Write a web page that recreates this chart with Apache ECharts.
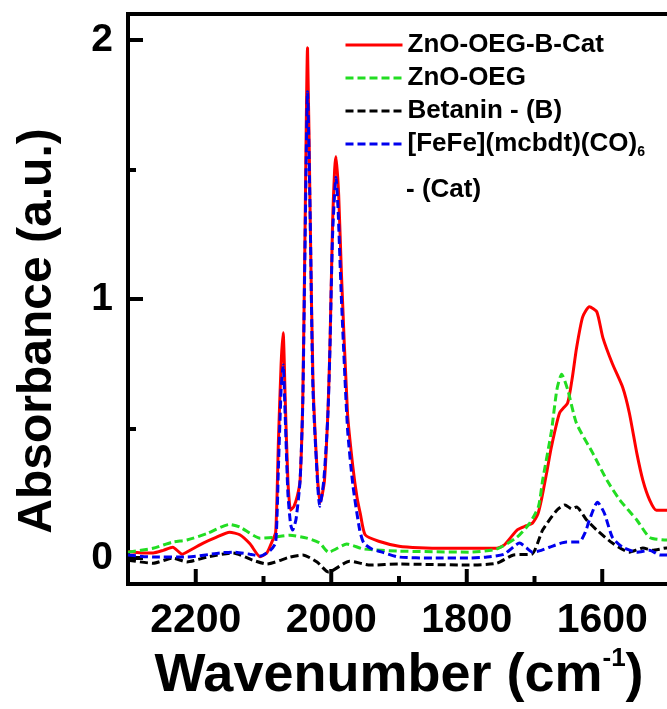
<!DOCTYPE html>
<html>
<head>
<meta charset="utf-8">
<script src="https://cdn.jsdelivr.net/npm/echarts@6.0.0/dist/echarts.min.js"></script>
<style>
  html, body { margin: 0; padding: 0; background: #fff; }
  #chart { width: 667px; height: 709px; }
</style>
</head>
<body>
<div id="chart"></div>
<script>
// ZnO-OEG-B-Cat (red, solid)
const catWn = [2300, 2280, 2263, 2248, 2234, 2220, 2205, 2189, 2170, 2150, 2135, 2120, 2105, 2095, 2088, 2082,
  2078, 2074, 2071, 2068, 2064, 2060, 2055, 2050, 2046, 2042, 2039, 2035, 2031, 2027, 2020, 2016, 2010, 2005,
  2002, 1998, 1995, 1993, 1989, 1985, 1976, 1968, 1962, 1957, 1950, 1930, 1900, 1870, 1830, 1790, 1756, 1745,
  1735, 1725, 1712, 1703, 1695, 1689, 1682, 1675, 1663, 1651, 1644, 1638, 1629, 1619, 1608, 1599, 1585, 1570,
  1560, 1549, 1540, 1530, 1520, 1505, 1500];
const catAbs = [0.025, 0.02, 0.02, 0.03, 0.042, 0.015, 0.035, 0.058, 0.08, 0.10, 0.09, 0.055, 0.005, 0.02, 0.06, 0.10,
  0.45, 0.75, 0.87, 0.62, 0.30, 0.185, 0.20, 0.24, 0.30, 0.62, 1.20, 1.97, 1.30, 0.69, 0.30, 0.216, 0.30, 0.56,
  0.81, 1.30, 1.50, 1.55, 1.40, 1.10, 0.56, 0.35, 0.235, 0.17, 0.09, 0.065, 0.046, 0.04, 0.038, 0.038, 0.038, 0.05,
  0.08, 0.11, 0.125, 0.135, 0.17, 0.235, 0.33, 0.43, 0.56, 0.60, 0.70, 0.81, 0.93, 0.97, 0.95, 0.85, 0.75, 0.66,
  0.56, 0.405, 0.30, 0.224, 0.185, 0.185, 0.185];

// ZnO-OEG (green, dashed)
const oegWn = [2300, 2263, 2234, 2213, 2183, 2150, 2135, 2105, 2086, 2061, 2036, 2017, 2004, 1977, 1952, 1900,
  1797, 1756, 1726, 1707, 1694, 1688, 1675, 1667, 1660, 1651, 1638, 1614, 1593, 1574, 1549, 1530, 1505, 1500];
const oegAbs = [0.023, 0.038, 0.062, 0.07, 0.095, 0.13, 0.12, 0.077, 0.08, 0.088, 0.077, 0.058, 0.023, 0.054, 0.035, 0.027,
  0.023, 0.035, 0.08, 0.135, 0.20, 0.30, 0.49, 0.65, 0.71, 0.65, 0.52, 0.405, 0.30, 0.224, 0.147, 0.08, 0.07, 0.07];

// Betanin - (B) (black, dashed)
const betWn = [2300, 2263, 2234, 2213, 2183, 2145, 2116, 2095, 2061, 2042, 2021, 2004, 1973, 1942, 1900, 1797,
  1756, 1731, 1704, 1688, 1667, 1655, 1645, 1638, 1623, 1608, 1585, 1560, 1540, 1526, 1505, 1500];
const betAbs = [-0.008, -0.02, 0.0, -0.015, 0.004, 0.02, -0.008, -0.023, 0.004, 0.012, -0.015, -0.054, -0.012, -0.027, -0.023, -0.027,
  -0.02, 0.012, 0.015, 0.108, 0.185, 0.205, 0.19, 0.197, 0.147, 0.108, 0.058, 0.023, 0.039, 0.03, 0.039, 0.039];

// [FeFe](mcbdt)(CO)6 - (Cat) (blue, dashed)
const feWn = [2300, 2263, 2213, 2164, 2145, 2120, 2105, 2090, 2082, 2078, 2074, 2071, 2068, 2064, 2060, 2057,
  2052, 2046, 2042, 2039, 2035, 2031, 2027, 2020, 2017, 2011, 2005, 2002, 1998, 1993, 1990, 1985, 1976, 1968,
  1958, 1952, 1940, 1925, 1900, 1850, 1797, 1770, 1745, 1722, 1712, 1703, 1690, 1678, 1653, 1634, 1625, 1619,
  1607, 1597, 1585, 1570, 1549, 1530, 1515, 1500];
const feAbs = [0.012, 0.004, 0.004, 0.02, 0.023, 0.015, 0.008, 0.03, 0.06, 0.35, 0.65, 0.745, 0.55, 0.25, 0.13, 0.108,
  0.15, 0.30, 0.60, 1.15, 1.80, 1.30, 0.65, 0.28, 0.20, 0.30, 0.55, 0.80, 1.25, 1.47, 1.35, 1.0, 0.50, 0.28,
  0.108, 0.058, 0.035, 0.023, 0.004, 0.0, 0.0, 0.004, 0.015, 0.058, 0.04, 0.023, 0.03, 0.042, 0.062, 0.062, 0.10, 0.147,
  0.216, 0.174, 0.08, 0.042, 0.023, 0.03, 0.012, 0.012];

const seriesNames = ['ZnO-OEG-B-Cat', 'ZnO-OEG', 'Betanin - (B)', '[FeFe](mcbdt)(CO)6 - (Cat)'];
const xMajorTicks = [2200, 2000, 1800, 1600];
const xMinorTicks = [2100, 1900, 1700];
const yMajorTicks = [0, 1, 2];
const yMinorTicks = [0.5, 1.5];

const FONT = '"Liberation Sans", Arial, sans-serif';
const Y_MIN = -0.1;
const Y_MAX = 2.1;

function zip(xs, ys) {
  return xs.map((x, i) => [x, ys[i]]);
}

function makeLine(name, data, color, type) {
  return {
    name: name,
    type: 'line',
    data: data,
    symbol: 'none',
    smooth: 0.2,
    lineStyle: { color: color, width: 3, type: type },
    itemStyle: { color: color },
    z: 3
  };
}

const textGraphics = [
  {
    id: 'ytitle', type: 'text', x: 38, y: 331, rotation: Math.PI / 2,
    style: {
      text: 'Absorbance (a.u.)', fill: '#000',
      font: 'bold 48px ' + FONT,
      align: 'center', verticalAlign: 'middle',
      textAlign: 'center', textVerticalAlign: 'middle'
    }
  },
  {
    id: 'cat2', type: 'text', x: 406, y: 190,
    style: {
      text: '- (Cat)', fill: '#000',
      font: 'bold 26px ' + FONT,
      align: 'left', verticalAlign: 'middle',
      textAlign: 'left', textVerticalAlign: 'middle'
    }
  }
];

const chart = echarts.init(document.getElementById('chart'));

chart.setOption({
  animation: false,
  grid: {
    left: 128, top: 14, width: 542, height: 570,
    outerBoundsMode: 'none',
    show: true, borderColor: '#000', borderWidth: 4
  },
  legend: {
    orient: 'vertical',
    left: 339, top: 27,
    itemWidth: 57, itemHeight: 14, itemGap: 7,
    data: seriesNames,
    // hide the default circle marker, keep only the line sample
    itemStyle: { opacity: 0 },
    lineStyle: { width: 3 },
    formatter: function (name) {
      if (name.indexOf('[FeFe]') === 0) return '{t|[FeFe](mcbdt)(CO)}{s|6}';
      return '{t|' + name + '}';
    },
    textStyle: {
      rich: {
        t: { fontFamily: FONT, fontWeight: 'bold', fontSize: 26, lineHeight: 30, color: '#000' },
        s: { fontFamily: FONT, fontWeight: 'bold', fontSize: 14, lineHeight: 30, color: '#000', verticalAlign: 'bottom', padding: [14, 0, 0, 0] }
      }
    }
  },
  xAxis: {
    type: 'value', min: 1500, max: 2300, inverse: true, position: 'bottom',
    axisLine: { show: false, onZero: false },
    splitLine: { show: false },
    axisTick: { show: false },
    axisLabel: {
      customValues: xMajorTicks, margin: 16,
      formatter: function (v) { return String(v); },
      fontFamily: FONT, fontWeight: 'bold', fontSize: 41, color: '#000'
    },
    name: 'Wavenumber (cm{sup|-1})',
    nameLocation: 'middle', nameGap: 56,
    nameTextStyle: {
      fontFamily: FONT, fontWeight: 'bold', fontSize: 54, color: '#000', lineHeight: 60,
      rich: {
        sup: { fontFamily: FONT, fontWeight: 'bold', fontSize: 26, color: '#000', verticalAlign: 'top', lineHeight: 60, padding: [0, 0, 18, 0] }
      }
    }
  },
  yAxis: [
    {
      type: 'value', min: Y_MIN, max: Y_MAX, position: 'left',
      axisLine: { show: false, onZero: false },
      splitLine: { show: false },
      axisTick: { show: true, inside: true, length: 15, lineStyle: { color: '#000', width: 4 }, customValues: yMajorTicks },
      axisLabel: {
        customValues: yMajorTicks, margin: 15,
        formatter: function (v) { return String(v); },
        fontFamily: FONT, fontWeight: 'bold', fontSize: 39, color: '#000'
      }
    },
    {
      type: 'value', min: Y_MIN, max: Y_MAX, position: 'left',
      axisLine: { show: false, onZero: false },
      splitLine: { show: false },
      axisLabel: { show: false },
      axisTick: { show: true, inside: true, length: 8, lineStyle: { color: '#000', width: 4 }, customValues: yMinorTicks }
    }
  ],
  graphic: textGraphics,
  series: [
    makeLine(seriesNames[0], zip(catWn, catAbs), '#ff0000', 'solid'),
    makeLine(seriesNames[1], zip(oegWn, oegAbs), '#22dd22', [8, 4]),
    makeLine(seriesNames[2], zip(betWn, betAbs), '#000000', [8, 4]),
    makeLine(seriesNames[3], zip(feWn, feAbs), '#0000ee', [8, 4])
  ]
});

// bottom tick marks: positions come from the x axis scale, drawn up from the bottom edge
function tickGraphics(values, len, prefix) {
  return values.map(function (v, i) {
    const p = chart.convertToPixel({ xAxisIndex: 0, yAxisIndex: 0 }, [v, Y_MIN]);
    return {
      id: prefix + i, type: 'line', z: 100,
      shape: { x1: p[0], y1: p[1], x2: p[0], y2: p[1] - len },
      style: { stroke: '#000', lineWidth: 4 }
    };
  });
}

chart.setOption({
  graphic: textGraphics
    .concat(tickGraphics(xMajorTicks, 15, 'xmaj'))
    .concat(tickGraphics(xMinorTicks, 8, 'xmin'))
});
</script>
</body>
</html>
